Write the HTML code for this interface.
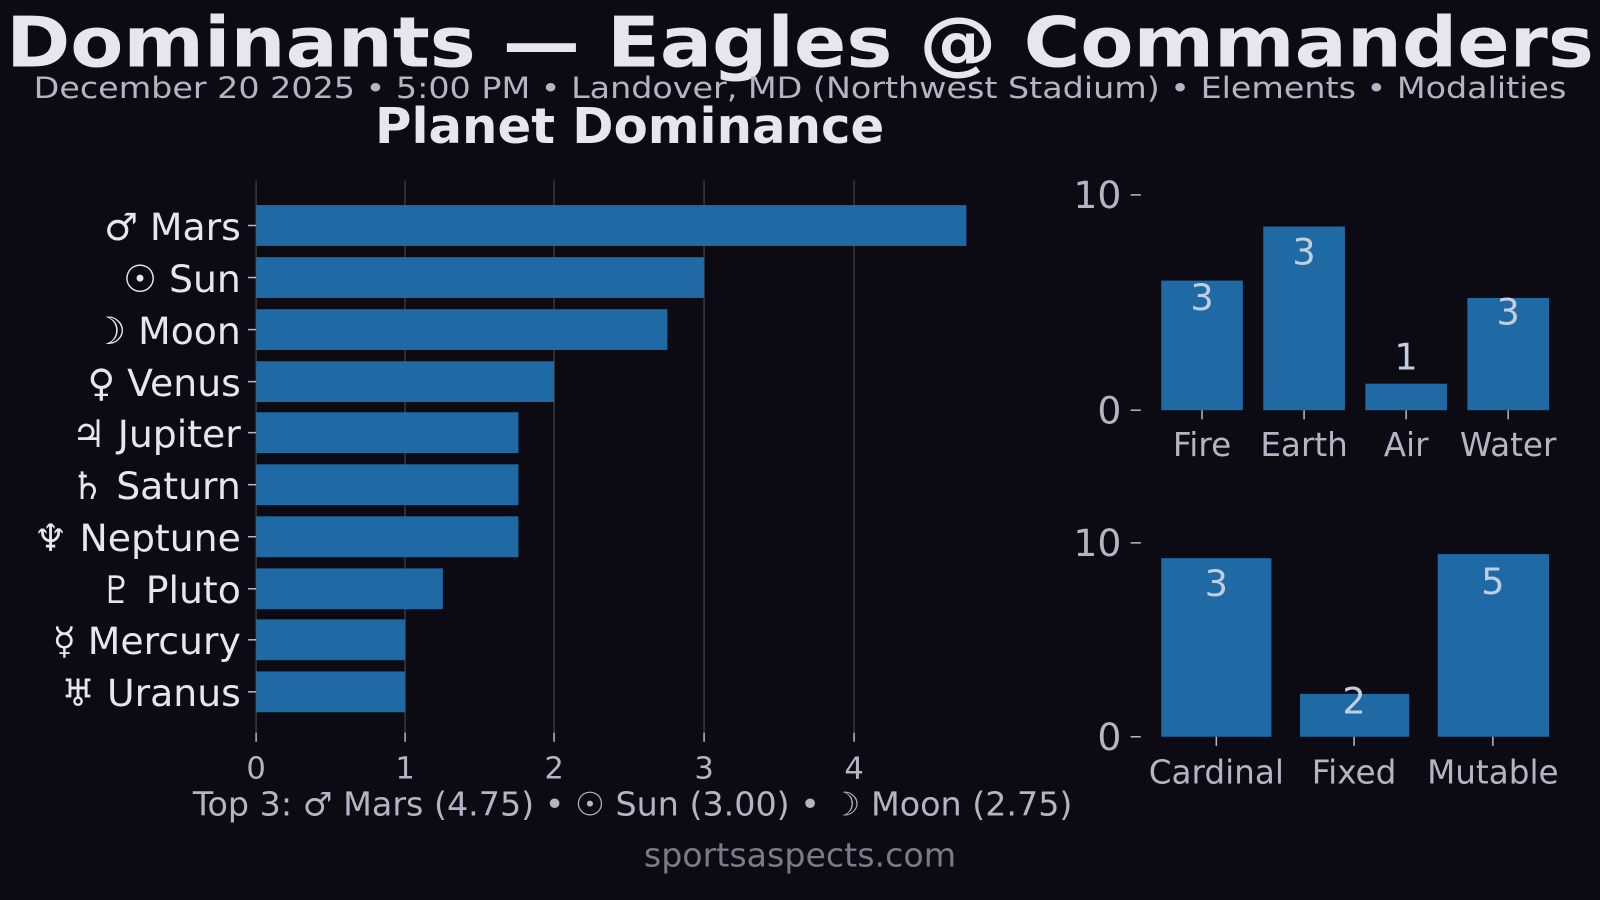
<!DOCTYPE html>
<html><head><meta charset="utf-8"><style>
html,body{margin:0;padding:0;background:#0c0b14;}
svg{display:block}
text{font-family:"DejaVu Sans","Liberation Sans",sans-serif;}
</style></head><body>
<svg width="1600" height="900" viewBox="0 0 1568 882" preserveAspectRatio="none" xmlns="http://www.w3.org/2000/svg">
<rect width="1568" height="882" fill="#0c0b14"/>
<text x="784" y="65" text-anchor="middle" font-size="68" font-weight="bold" fill="#e6e6f0" textLength="1556" lengthAdjust="spacingAndGlyphs">Dominants — Eagles @ Commanders</text>
<text x="784" y="96" text-anchor="middle" font-size="29" fill="#b4b4c4" textLength="1502" lengthAdjust="spacingAndGlyphs">December 20 2025 • 5:00 PM • Landover, MD (Northwest Stadium) • Elements • Modalities</text>
<text x="617" y="140" text-anchor="middle" font-size="48" font-weight="bold" fill="#e6e6f0" textLength="499" lengthAdjust="spacingAndGlyphs">Planet Dominance</text>

<g stroke="#ffffff" stroke-opacity="0.18" stroke-width="1.5">
<line x1="397" y1="177" x2="397" y2="718"/><line x1="543" y1="177" x2="543" y2="718"/>
<line x1="690" y1="177" x2="690" y2="718"/><line x1="837" y1="177" x2="837" y2="718"/>
<line x1="251" y1="177" x2="251" y2="718"/>
</g>
<g fill="#1f6aa5">
<rect x="251" y="201" width="696" height="40"/>
<rect x="251" y="252" width="439" height="40"/>
<rect x="251" y="303" width="403" height="40"/>
<rect x="251" y="354" width="292" height="40"/>
<rect x="251" y="404" width="257" height="40"/>
<rect x="251" y="455" width="257" height="40"/>
<rect x="251" y="506" width="257" height="40"/>
<rect x="251" y="557" width="183" height="40"/>
<rect x="251" y="607" width="146" height="40"/>
<rect x="251" y="658" width="146" height="40"/>
</g>
<g stroke="#b4b4c4" stroke-width="1.5">
<line x1="243" y1="221" x2="251" y2="221"/><line x1="243" y1="272" x2="251" y2="272"/>
<line x1="243" y1="323" x2="251" y2="323"/><line x1="243" y1="374" x2="251" y2="374"/>
<line x1="243" y1="424" x2="251" y2="424"/><line x1="243" y1="475" x2="251" y2="475"/>
<line x1="243" y1="526" x2="251" y2="526"/><line x1="243" y1="577" x2="251" y2="577"/>
<line x1="243" y1="627" x2="251" y2="627"/><line x1="243" y1="678" x2="251" y2="678"/>
<line x1="251" y1="718" x2="251" y2="727"/><line x1="397" y1="718" x2="397" y2="727"/>
<line x1="543" y1="718" x2="543" y2="727"/><line x1="690" y1="718" x2="690" y2="727"/>
<line x1="837" y1="718" x2="837" y2="727"/>
</g>
<g font-size="37" fill="#e6e6f0" text-anchor="end">
<text x="236" y="235">♂ Mars</text><text x="236" y="286">☉ Sun</text>
<text x="236" y="337">☽ Moon</text><text x="236" y="388">♀ Venus</text>
<text x="236" y="438">♃ Jupiter</text><text x="236" y="489">♄ Saturn</text>
<text x="236" y="540">♆ Neptune</text><text x="236" y="591">♇ Pluto</text>
<text x="236" y="641">☿ Mercury</text><text x="236" y="692">♅ Uranus</text>
</g>
<g font-size="30" fill="#b4b4c4" text-anchor="middle">
<text x="251" y="763">0</text><text x="397" y="763">1</text><text x="543" y="763">2</text>
<text x="690" y="763">3</text><text x="837" y="763">4</text>
</g>
<text x="620" y="799" text-anchor="middle" font-size="32" fill="#b4b4c4" textLength="862" lengthAdjust="spacingAndGlyphs">Top 3: ♂ Mars (4.75) • ☉ Sun (3.00) •  ☽ Moon (2.75)</text>
<text x="784" y="849" text-anchor="middle" font-size="32" fill="#7a7a88" textLength="306" lengthAdjust="spacingAndGlyphs">sportsaspects.com</text>

<g fill="#1f6aa5">
<rect x="1138" y="275" width="80" height="127"/>
<rect x="1238" y="222" width="80" height="180"/>
<rect x="1338" y="376" width="80" height="26"/>
<rect x="1438" y="292" width="80" height="110"/>
<rect x="1138" y="547" width="108" height="175"/>
<rect x="1274" y="680" width="107" height="42"/>
<rect x="1409" y="543" width="109" height="179"/>
</g>
<g stroke="#b4b4c4" stroke-width="1.5">
<line x1="1108" y1="191" x2="1118" y2="191"/><line x1="1108" y1="402" x2="1118" y2="402"/>
<line x1="1178" y1="402" x2="1178" y2="411"/><line x1="1278" y1="402" x2="1278" y2="411"/>
<line x1="1378" y1="402" x2="1378" y2="411"/><line x1="1478" y1="402" x2="1478" y2="411"/>
<line x1="1108" y1="532" x2="1118" y2="532"/><line x1="1108" y1="722" x2="1118" y2="722"/>
<line x1="1192" y1="722" x2="1192" y2="731"/><line x1="1327" y1="722" x2="1327" y2="731"/>
<line x1="1463" y1="722" x2="1463" y2="731"/>
</g>
<g font-size="37" fill="#b4b4c4" text-anchor="end">
<text x="1099" y="204">10</text><text x="1099" y="415">0</text>
<text x="1099" y="545">10</text><text x="1099" y="735">0</text>
</g>
<g font-size="32" fill="#b4b4c4" text-anchor="middle">
<text x="1178" y="447">Fire</text><text x="1278" y="447">Earth</text>
<text x="1378" y="447">Air</text><text x="1478" y="447">Water</text>
<text x="1192" y="768">Cardinal</text><text x="1327" y="768">Fixed</text><text x="1463" y="768">Mutable</text>
</g>
<g font-size="36" fill="#c4cce0" text-anchor="middle">
<text x="1178" y="304">3</text><text x="1278" y="259">3</text>
<text x="1378" y="362">1</text><text x="1478" y="318">3</text>
<text x="1192" y="584">3</text><text x="1327" y="699">2</text><text x="1463" y="582">5</text>
</g>
</svg>
</body></html>
